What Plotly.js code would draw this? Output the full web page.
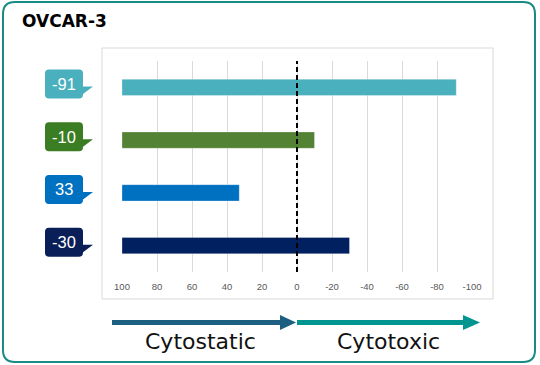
<!DOCTYPE html>
<html>
<head>
<meta charset="utf-8">
<script src="https://cdn.plot.ly/plotly-3.0.1.min.js"></script>
<style>html,body{margin:0;padding:0;background:#fff;}#chart{width:540px;height:365px;}</style>
</head>
<body>
<div id="chart"></div>
<script>
// ---- data ----
const categories = ['Row 1', 'Row 2', 'Row 3', 'Row 4'];
const values = [-91, -10, 33, -30];
const barBase = 100;
const barColors = ['#4AB0BE', '#548235', '#0070C0', '#002060'];
const bubbleColors = ['#4AB0BE', '#3B7D23', '#0070C0', '#0A1F58'];
const tickVals = [100, 80, 60, 40, 20, 0, -20, -40, -60, -80, -100];
const tickText = ['100', '80', '60', '40', '20', '0', '-20', '-40', '-60', '-80', '-100'];
const chartTitle = 'OVCAR-3';
const leftLabel = 'Cytostatic';
const rightLabel = 'Cytotoxic';

// ---- layout helpers (pixel geometry) ----
const W = 540, H = 365;
const M = {l: 122, r: 68, t: 61, b: 93};
const PX0 = M.l, PY0 = H - M.b; // plot-area origin in page pixels
function ox(px) { return px - PX0; }
function oy(py) { return PY0 - py; }
function roundRectPath(x0, y0, x1, y1, r) {
  const L = ox(x0), R = ox(x1), T = oy(y0), B = oy(y1);
  return `M${L + r},${T} L${R - r},${T} Q${R},${T} ${R},${T - r} L${R},${B + r} Q${R},${B} ${R - r},${B} L${L + r},${B} Q${L},${B} ${L},${B + r} L${L},${T - r} Q${L},${T} ${L + r},${T} Z`;
}
function pixShape(extra) {
  return Object.assign({xref: 'paper', yref: 'paper', xsizemode: 'pixel', ysizemode: 'pixel', xanchor: 0, yanchor: 0}, extra);
}

const shapes = [];
// outer teal rounded frame
shapes.push(pixShape({type: 'path', path: roundRectPath(3, 2, 535, 362, 12), line: {color: '#1A8A85', width: 2}, layer: 'below'}));
// inner gray chart box
shapes.push(pixShape({type: 'rect', x0: ox(102), x1: ox(493), y0: oy(299), y1: oy(48), line: {color: '#D9D9D9', width: 1}, layer: 'below'}));
// dashed zero line
shapes.push({type: 'line', xref: 'x', yref: 'paper', x0: 0, x1: 0, y0: 0, y1: 1, line: {color: '#000', width: 2, dash: '5px,3px'}, layer: 'above'});
// arrows
const ay = 322.5;
shapes.push(pixShape({type: 'line', x0: ox(112), x1: ox(282), y0: oy(ay), y1: oy(ay), line: {color: '#1D5F80', width: 5}}));
shapes.push(pixShape({type: 'path', path: `M${ox(280)},${oy(315)} L${ox(296)},${oy(ay)} L${ox(280)},${oy(330)} Z`, fillcolor: '#1D5F80', line: {width: 0}}));
shapes.push(pixShape({type: 'line', x0: ox(297), x1: ox(465), y0: oy(ay), y1: oy(ay), line: {color: '#00958F', width: 5}}));
shapes.push(pixShape({type: 'path', path: `M${ox(463)},${oy(315)} L${ox(480)},${oy(ay)} L${ox(463)},${oy(330)} Z`, fillcolor: '#00958F', line: {width: 0}}));

// callout bubbles anchored to each category row
const bL = -77, bR = -39, bT = 18, bB = -11, tipX = -29, tipY = 1, tailB = -6.5, rr = 4;
const bubblePath = `M${bL + rr},${bT} L${bR - rr},${bT} Q${bR},${bT} ${bR},${bT - rr} L${bR},${tipY} L${tipX},${tipY} L${bR},${tailB} L${bR},${bB + rr} Q${bR},${bB} ${bR - rr},${bB} L${bL + rr},${bB} Q${bL},${bB} ${bL},${bB + rr} L${bL},${bT - rr} Q${bL},${bT} ${bL + rr},${bT} Z`;
const annotations = [];
categories.forEach((c, i) => {
  shapes.push({type: 'path', xref: 'paper', yref: 'y', xsizemode: 'pixel', ysizemode: 'pixel', xanchor: 0, yanchor: c,
    path: bubblePath, fillcolor: bubbleColors[i], line: {width: 0}, layer: 'above'});
  annotations.push({xref: 'paper', yref: 'y', x: 0, y: c, xshift: (bL + bR) / 2, yshift: (bT + bB) / 2,
    text: String(values[i]), showarrow: false, xanchor: 'center', yanchor: 'middle',
    font: {family: 'Liberation Sans, Arial, sans-serif', size: 16.5, color: '#FFFFFF'}});
});
// bottom labels
annotations.push({xref: 'paper', yref: 'paper', x: (200 - PX0) / (W - M.l - M.r), y: (PY0 - 341) / (H - M.t - M.b),
  text: leftLabel, showarrow: false, xanchor: 'center', yanchor: 'middle',
  font: {family: 'DejaVu Sans, sans-serif', size: 22, color: '#111'}});
annotations.push({xref: 'paper', yref: 'paper', x: (388 - PX0) / (W - M.l - M.r), y: (PY0 - 341) / (H - M.t - M.b),
  text: rightLabel, showarrow: false, xanchor: 'center', yanchor: 'middle',
  font: {family: 'DejaVu Sans, sans-serif', size: 22, color: '#111'}});

const trace = {
  type: 'bar',
  orientation: 'h',
  y: categories,
  x: values.map(v => v - barBase),
  base: barBase,
  width: 0.31,
  marker: {color: barColors, line: {color: 'rgba(255,255,255,0.3)', width: 1}},
  hoverinfo: 'skip'
};

const layout = {
  width: W, height: H,
  margin: M,
  paper_bgcolor: '#FFFFFF',
  plot_bgcolor: 'rgba(0,0,0,0)',
  showlegend: false,
  title: {text: '<b>' + chartTitle + '</b>', xref: 'container', yref: 'container', x: 22 / W, xanchor: 'left', y: 1 - 21.5 / H, yanchor: 'middle',
    font: {family: 'DejaVu Sans, sans-serif', size: 17, color: '#000'}},
  xaxis: {
    range: [100, -100], tickvals: tickVals, ticktext: tickText,
    showgrid: true, gridcolor: '#D9D9D9', gridwidth: 1, zeroline: false, showline: false, ticks: '',
    ticklabelstandoff: 7,
    tickfont: {family: 'Liberation Sans, Arial, sans-serif', size: 9.5, color: '#595959'}, fixedrange: true
  },
  yaxis: {
    type: 'category', categoryorder: 'array', categoryarray: categories, range: [3.5, -0.5],
    showgrid: false, zeroline: false, showline: false, showticklabels: false, ticks: '', fixedrange: true
  },
  shapes: shapes,
  annotations: annotations
};

Plotly.newPlot('chart', [trace], layout, {displayModeBar: false, staticPlot: true});
</script>
</body>
</html>
